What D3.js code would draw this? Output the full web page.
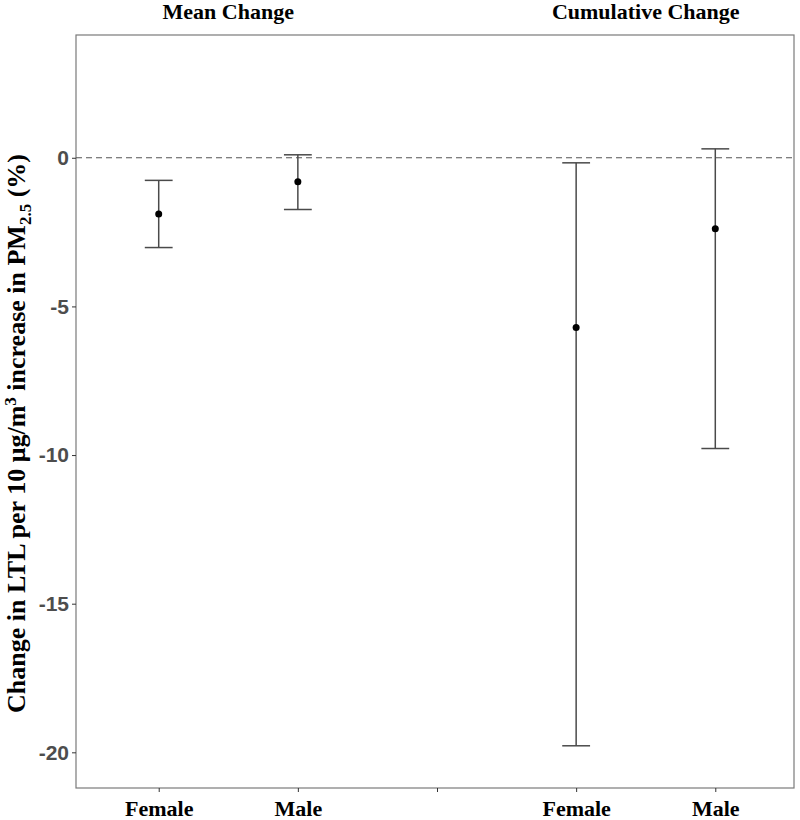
<!DOCTYPE html>
<html>
<head>
<meta charset="utf-8">
<script src="https://cdn.jsdelivr.net/npm/d3@7"></script>
<style>
    body { margin: 0; background: #fff; }
    svg { display: block; }
</style>
</head>
<body>
<div id="chart"></div>
<script>

// x positions (the empty one is the gap between the two panels)
var categories = ['mF', 'mM', 'gap', 'cF', 'cM'];
var tickLabels = ['Female', 'Male', '', 'Female', 'Male'];

// estimates and confidence limits
var groups = ['mF', 'mM', 'cF', 'cM'];
var estimates = [-1.89, -0.81, -5.71, -2.39];
var lowers = [-3.02, -1.74, -19.78, -9.78];
var uppers = [-0.76, 0.10, -0.17, 0.30];

var yTicks = [0, -5, -10, -15, -20];

var panelTitles = ['Mean Change', 'Cumulative Change'];
var panelGroups = [['mF', 'mM'], ['cF', 'cM']];

var width = 800;
var height = 820;

var margin = {
    top: 35,
    bottom: 32,
    left: 76,
    right: 6,
};

var svg = d3.select('#chart')
    .append('svg')
    .attr('width', width)
    .attr('height', height);

//categories sit a touch right of the plain point scale in the picture
var x = d3.scalePoint()
    .domain(categories)
    .range([margin.left + 2, width - margin.right + 2])
    .padding(0.58);

var y = d3.scaleLinear()
    .domain([-21.2, 4.13])
    .range([height - margin.bottom, margin.top]);

// half of the cap width, 0.2 of a category step like geom_errorbar(width=.2)
var capHalf = x.step() * 0.1;

// panel border
svg.append('rect')
    .attr('x', margin.left)
    .attr('y', margin.top)
    .attr('width', width - margin.left - margin.right)
    .attr('height', height - margin.top - margin.bottom)
    .attr('fill', 'none')
    .attr('stroke', '#7a7a7a')
    .attr('stroke-width', 1.2);

// reference line at zero
svg.append('line')
    .attr('x1', margin.left)
    .attr('x2', width - margin.right)
    .attr('y1', y(0))
    .attr('y2', y(0))
    .attr('stroke', '#555')
    .attr('stroke-width', 1.1)
    .attr('stroke-dasharray', '6,4');

// y axis, plain hyphen for the minus sign
var yAxis = svg.append('g')
    .attr('transform', 'translate(' + margin.left + ',0)')
    .call(d3.axisLeft(y).tickValues(yTicks).tickSize(4).tickPadding(3)
        .tickFormat(function(d) { return String(d); }));

yAxis.select('.domain').remove();
yAxis.selectAll('.tick line').attr('stroke', '#333');
yAxis.selectAll('.tick text')
    .attr('fill', '#4d4d4d')
    .style('font-family', 'Liberation Sans, Arial, sans-serif')
    .style('font-weight', 'bold')
    .style('font-size', '21px');

// x axis
var xAxis = svg.append('g')
    .attr('transform', 'translate(0,' + (height - margin.bottom) + ')')
    .call(d3.axisBottom(x).tickSize(4).tickPadding(8)
        .tickFormat(function(d, i) { return tickLabels[i]; }));

xAxis.select('.domain').remove();
xAxis.selectAll('.tick line').attr('stroke', '#333');
xAxis.selectAll('.tick text')
    .attr('fill', '#000')
    .style('font-family', 'Liberation Serif, Times New Roman, serif')
    .style('font-weight', 'bold')
    .style('font-size', '22px');

// error bars
var bars = svg.append('g')
    .selectAll('g.bar')
    .data(groups)
    .enter()
    .append('g')
    .attr('class', 'bar')
    .attr('stroke', '#4a4a4a')
    .attr('stroke-width', 1.5);

bars.append('line')
    .attr('x1', function(d) { return x(d); })
    .attr('x2', function(d) { return x(d); })
    .attr('y1', function(d, i) { return y(uppers[i]); })
    .attr('y2', function(d, i) { return y(lowers[i]); });

bars.append('line')
    .attr('x1', function(d) { return x(d) - capHalf; })
    .attr('x2', function(d) { return x(d) + capHalf; })
    .attr('y1', function(d, i) { return y(uppers[i]); })
    .attr('y2', function(d, i) { return y(uppers[i]); });

bars.append('line')
    .attr('x1', function(d) { return x(d) - capHalf; })
    .attr('x2', function(d) { return x(d) + capHalf; })
    .attr('y1', function(d, i) { return y(lowers[i]); })
    .attr('y2', function(d, i) { return y(lowers[i]); });

// point estimates
svg.append('g')
    .selectAll('circle')
    .data(groups)
    .enter()
    .append('circle')
    .attr('cx', function(d) { return x(d); })
    .attr('cy', function(d, i) { return y(estimates[i]); })
    .attr('r', 3.5)
    .attr('fill', '#000');

// titles above each pair
svg.append('g')
    .selectAll('text')
    .data(panelTitles)
    .enter()
    .append('text')
    .attr('x', function(d, i) {
        return (x(panelGroups[i][0]) + x(panelGroups[i][1])) / 2;
    })
    .attr('y', 19)
    .attr('text-anchor', 'middle')
    .style('font-family', 'Liberation Serif, Times New Roman, serif')
    .style('font-weight', 'bold')
    .style('font-size', '22px')
    .text(function(d) { return d; });

// y axis title
var yTitle = svg.append('text')
    .attr('transform', 'translate(25,' + ((margin.top + height - margin.bottom) / 2 + 22) + ') rotate(-90)')
    .attr('text-anchor', 'middle')
    .style('font-family', 'Liberation Serif, Times New Roman, serif')
    .style('font-weight', 'bold')
    .style('font-size', '26px');

yTitle.append('tspan').text('Change in LTL per 10 μg/m');
yTitle.append('tspan').attr('dy', -9).style('font-size', '17px').text('3');
yTitle.append('tspan').attr('dy', 9).text(' increase in PM');
yTitle.append('tspan').attr('dy', 6).style('font-size', '17px').text('2.5');
yTitle.append('tspan').attr('dy', -6).text(' (%)');

</script>
</body>
</html>
